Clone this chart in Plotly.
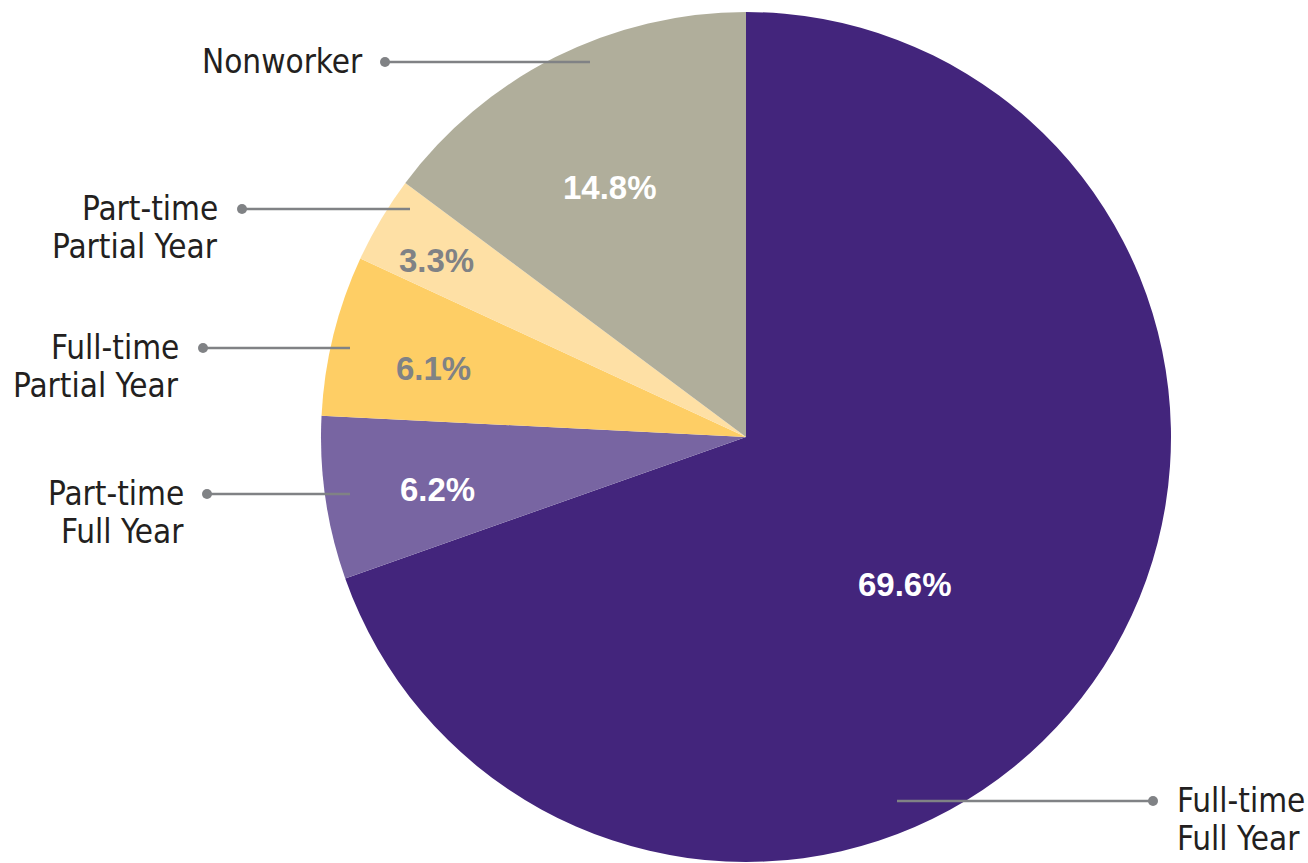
import numpy as np
import plotly.graph_objects as go

# Work-status shares (percent), in clockwise order from 12 o'clock
categories = ["Full-time\nFull Year", "Part-time\nFull Year", "Full-time\nPartial Year",
              "Part-time\nPartial Year", "Nonworker"]
shares = [69.6, 6.2, 6.1, 3.3, 14.8]

slice_colors = ["#43257c", "#7865a2", "#fece65", "#fee0a5", "#b0ae9b"]
value_text_colors = ["#ffffff", "#ffffff", "#808285", "#808285", "#ffffff"]

W, H = 1308, 863
CX, CY, R = 746, 437, 425

# label placement inside each slice: fraction of radius, angular nudge (deg)
label_radius = [0.51, 0.737, 0.752, 0.838, 0.668]
label_nudge = [7.6, -1.3, -1.4, -1.0, -2.0]

# callout geometry: (line y, inner x, outer/dot x, text x, side)
callouts = [
    (801, 897, 1153, 1175, "right"),
    (494, 350, 207, 186, "left"),
    (348, 350, 203, 181, "left"),
    (209, 410, 242, 220, "left"),
    (62, 590, 385, 365, "left"),
]

LABEL_FONT = "DejaVu Sans Condensed, Liberation Sans Narrow, Arial Narrow, sans-serif"
VALUE_FONT = "Liberation Sans, Arial, Helvetica, sans-serif"
GREY = "#808285"
DOT_R = 5

fig = go.Figure()

fig.add_trace(go.Pie(
    values=shares,
    labels=[c.replace("\n", " ") for c in categories],
    sort=False,
    direction="clockwise",
    rotation=0,
    marker=dict(colors=slice_colors, line=dict(width=0)),
    textinfo="none",
    hoverinfo="label+value",
    showlegend=False,
    domain=dict(x=[(CX - R) / W, (CX + R) / W], y=[1 - (CY + R) / H, 1 - (CY - R) / H]),
))

# invisible trace so the pixel-space overlay axes exist
fig.add_trace(go.Scatter(x=[0, W], y=[0, H], mode="markers", marker=dict(opacity=0),
                         hoverinfo="skip", showlegend=False))

# callout leader lines and end dots, drawn above the pie
shapes = []
for (ly, x_in, x_out, tx, side) in callouts:
    shapes.append(dict(type="line", xref="x", yref="y", x0=x_in, x1=x_out, y0=ly, y1=ly,
                       line=dict(color=GREY, width=2.5), layer="above"))
    shapes.append(dict(type="circle", xref="x", yref="y",
                       x0=x_out - DOT_R, x1=x_out + DOT_R, y0=ly - DOT_R, y1=ly + DOT_R,
                       fillcolor=GREY, line=dict(width=0), layer="above"))

annotations = []

# percentage labels placed at each slice's mid-angle
cum = np.cumsum([0] + shares)
total = cum[-1]
for i, v in enumerate(shares):
    mid = (cum[i] + v / 2) / total * 360 + label_nudge[i]
    th = np.deg2rad(mid)
    rr = R * label_radius[i]
    px = CX + rr * np.sin(th)
    py = CY - rr * np.cos(th)
    annotations.append(dict(
        x=px, y=py, xref="x", yref="y", text=f"<b>{v:.1f}%</b>", showarrow=False,
        font=dict(family=VALUE_FONT, size=33, color=value_text_colors[i]),
        xanchor="center", yanchor="middle",
    ))

# category names, one annotation per line for tight leading
LEADING = 38
for cat, (ly, x_in, x_out, tx, side) in zip(categories, callouts):
    lines = cat.split("\n")
    for j, line in enumerate(lines):
        annotations.append(dict(
            x=tx, y=ly - 1 + j * LEADING, xref="x", yref="y", text=line, showarrow=False,
            font=dict(family=LABEL_FONT, size=33, color="#231f20"),
            xanchor="left" if side == "right" else "right", yanchor="middle",
        ))

fig.update_layout(
    width=W, height=H,
    margin=dict(l=0, r=0, t=0, b=0),
    paper_bgcolor="white", plot_bgcolor="rgba(0,0,0,0)",
    xaxis=dict(range=[0, W], visible=False, fixedrange=True),
    yaxis=dict(range=[H, 0], visible=False, fixedrange=True),
    shapes=shapes,
    annotations=annotations,
)

fig.write_html("out.html", config={"displayModeBar": False})
